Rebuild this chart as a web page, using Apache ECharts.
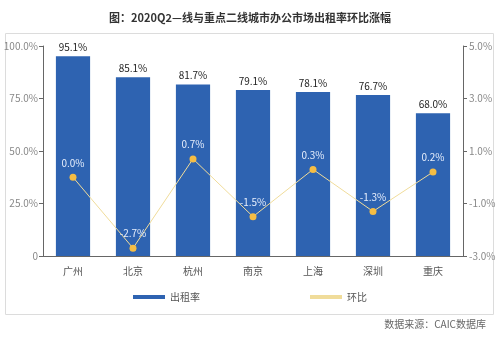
<!DOCTYPE html>
<html><head><meta charset="utf-8">
<script src="https://cdn.jsdelivr.net/npm/echarts@6/dist/echarts.min.js"></script>
<style>html,body{margin:0;padding:0;background:#fff}#c{width:500px;height:347px}</style>
</head><body><div id="c"></div>
<script>
const categories = ['广州','北京','杭州','南京','上海','深圳','重庆'];
const occupancy = [95.1, 85.1, 81.7, 79.1, 78.1, 76.7, 68.0];
const change = [0.0, -2.7, 0.7, -1.5, 0.3, -1.3, 0.2];
const leftTicks = [0, 25, 50, 75, 100];
const rightTicks = [-3, -1, 1, 3, 5];

const chart = echarts.init(document.getElementById('c'));
const font = '"Noto Sans CJK SC", "Noto Sans", sans-serif';
chart.setOption({
  animation: false,
  textStyle: {fontFamily: font},
  title: {
    text: '图：2020Q2—线与重点二线城市办公市场出租率环比涨幅',
    left: 'center', top: 7,
    textStyle: {fontSize: 11, fontWeight: 'bold', color: '#333', fontFamily: font}
  },
  graphic: [
    {type: 'rect', shape: {x: 5.5, y: 33.5, width: 488, height: 281}, style: {fill: 'none', stroke: '#dcdcdc', lineWidth: 1}, z: -1},
    {type: 'text', right: 14, top: 319, style: {text: '数据来源：CAIC数据库', fill: '#666', font: '10px ' + font}}
  ],
  legend: {
    bottom: 40, itemGap: 110, itemWidth: 32, itemHeight: 4,
    textStyle: {fontSize: 10, color: '#555'},
    data: [{name: '出租率', icon: 'rect'}, {name: '环比', icon: 'rect', itemStyle: {color: '#f0dc9a'}}]
  },
  grid: {left: 43, right: 37, top: 46, bottom: 91},
  xAxis: {
    type: 'category', data: categories,
    axisLine: {lineStyle: {color: '#666'}},
    axisTick: {show: false},
    axisLabel: {color: '#555', fontSize: 10, margin: 10}
  },
  yAxis: [
    {type: 'value', min: leftTicks[0], max: leftTicks[leftTicks.length-1], interval: 25,
     axisLine: {show: true, lineStyle: {color: '#666'}},
     axisTick: {show: true, length: 4},
     splitLine: {show: false},
     axisLabel: {color: '#888', fontSize: 10, margin: 5, formatter: v => v === 0 ? '0' : v.toFixed(1) + '%'}},
    {type: 'value', min: rightTicks[0], max: rightTicks[rightTicks.length-1], interval: 2,
     axisLine: {show: true, lineStyle: {color: '#666'}},
     axisTick: {show: true, length: 4},
     splitLine: {show: false},
     axisLabel: {color: '#888', fontSize: 10, margin: 6, formatter: v => v.toFixed(1) + '%'}}
  ],
  series: [
    {name: '出租率', type: 'bar', data: occupancy, barWidth: '57%',
     itemStyle: {color: '#2e63b1'},
     label: {show: true, position: 'top', color: '#222', fontSize: 10, distance: 4, formatter: p => p.value.toFixed(1) + '%'}},
    {name: '环比', type: 'line', yAxisIndex: 1, data: change,
     symbol: 'circle', symbolSize: 7,
     lineStyle: {color: '#f0dc9a', width: 1},
     itemStyle: {color: '#f5bd44'},
     label: {show: true, position: 'top', color: '#e6eefc', fontSize: 10, distance: 6, formatter: p => p.value.toFixed(1) + '%'}}
  ]
});
</script></body></html>
